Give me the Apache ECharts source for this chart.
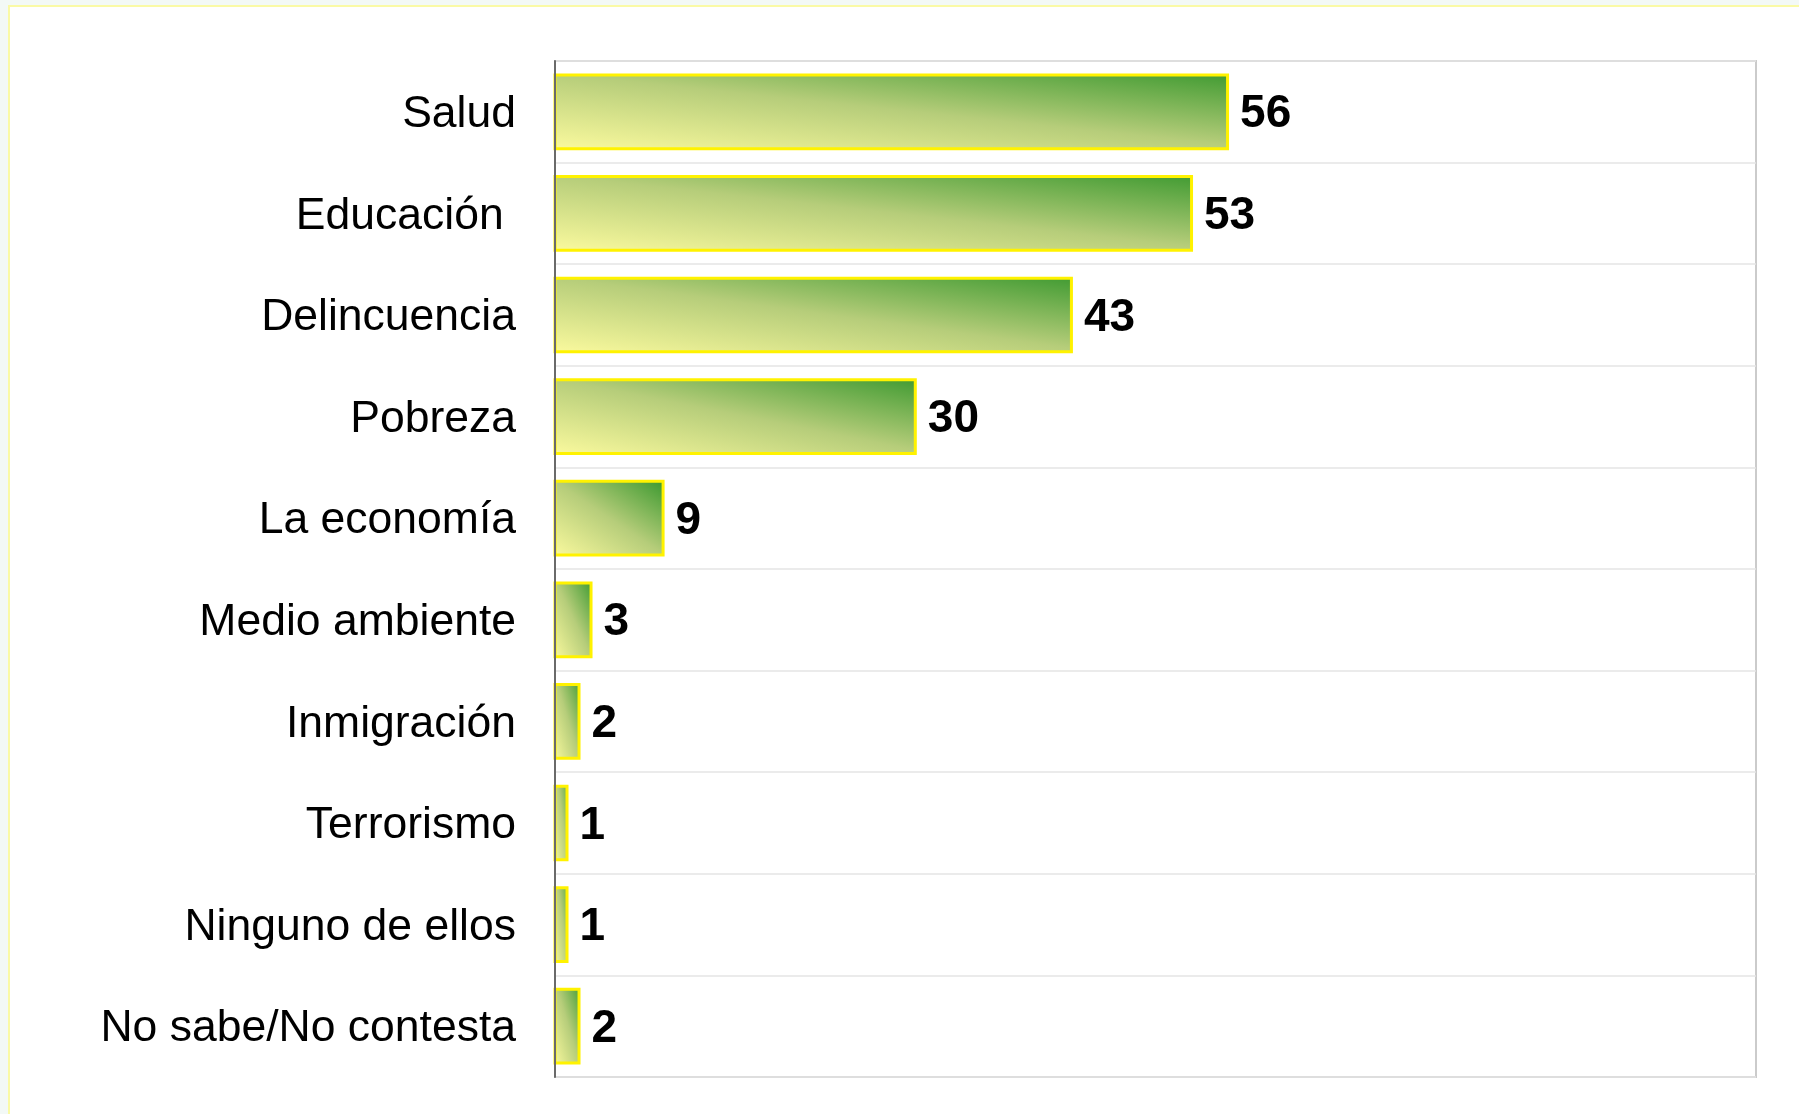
<!DOCTYPE html>
<html>
<head>
<meta charset="utf-8">
<script src="https://cdn.jsdelivr.net/npm/echarts@6/dist/echarts.min.js"></script>
<style>
  html, body { margin: 0; padding: 0; background: #f3f9f6; }
  #frame {
    position: absolute; left: 8px; top: 5px; width: 1791px; height: 1109px;
    background: #fff; border-left: 2px solid #fafaa6; border-top: 2px solid #fafaa6;
  }
  #chart { width: 1789px; height: 1107px; }
</style>
</head>
<body>
<div id="frame"><div id="chart"></div></div>
<script>
// categories top to bottom
const categories = ['Salud', 'Educación ', 'Delincuencia', 'Pobreza', 'La economía',
  'Medio ambiente', 'Inmigración', 'Terrorismo', 'Ninguno de ellos', 'No sabe/No contesta']
const values = [56, 53, 43, 30, 9, 3, 2, 1, 1, 2]
const axisMax = 100

const gradientStops = [
  { offset: 0, color: '#fbfa9e' },
  { offset: 0.5, color: '#b6cd7a' },
  { offset: 1, color: '#38972d' }
]

const chart = echarts.init(document.getElementById('chart'))

// excel-like diagonal gradient: lines of equal colour run corner to corner
function barFill(w, h) {
  const r = w / h
  return new echarts.graphic.LinearGradient(0, 1, 2 / (1 + r * r), (1 - r * r) / (1 + r * r), gradientStops)
}

chart.setOption({
  animation: false,
  grid: {
    left: 545,
    top: 54,
    width: 1201,
    height: 1016,
    show: true,
    backgroundColor: '#fff',
    borderColor: '#cbcbcb',
    borderWidth: 2
  },
  xAxis: {
    type: 'value',
    min: 0,
    max: axisMax,
    axisLine: { show: false },
    axisTick: { show: false },
    axisLabel: { show: false },
    splitLine: { show: false }
  },
  yAxis: {
    type: 'category',
    inverse: true,
    data: categories,
    z: 3,
    axisLine: { lineStyle: { color: '#6a6a6a', width: 2 } },
    axisTick: { length: 14, lineStyle: { color: '#6a6a6a', width: 2 } },
    axisLabel: {
      margin: 39,
      formatter: (value) => '{c|' + value + '}',
      rich: {
        c: {
          fontSize: 44.5,
          fontFamily: '"Liberation Sans", Arial, sans-serif',
          color: '#000',
          padding: [6, 0, 0, 0]
        }
      }
    },
    splitLine: { show: true, lineStyle: { color: '#e4e4e4', width: 1.5 } }
  },
  series: [{
    type: 'custom',
    encode: { x: 0, y: 1 },
    data: values.map((v, i) => [v, i]),
    renderItem: function (params, api) {
      const v = api.value(0)
      const cat = api.value(1)
      const p0 = api.coord([0, cat])
      const p1 = api.coord([v, cat])
      const h = api.size([0, 1])[1] * 0.725
      const w = p1[0] - p0[0]
      return {
        type: 'rect',
        shape: { x: p0[0], y: p0[1] - h / 2, width: w, height: h },
        style: { fill: barFill(w, h), stroke: '#fff200', lineWidth: 3 },
        textContent: {
          style: {
            text: String(v),
            fill: '#000',
            font: 'bold 46px "Liberation Sans", Arial, sans-serif'
          }
        },
        textConfig: { position: 'right', distance: 11, offset: [0, 3] }
      }
    }
  }]
})
</script>
</body>
</html>
